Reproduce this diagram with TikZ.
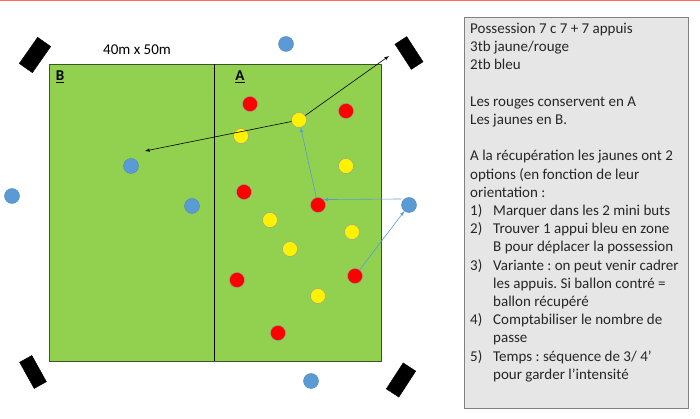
\documentclass[tikz,border=0pt]{standalone}
\usepackage{fontspec}
\setmainfont{Carlito}
\usepackage{tikz}
\frenchspacing

\definecolor{terrain}{HTML}{92D050}
\definecolor{bord}{HTML}{385723}
\definecolor{bleu}{HTML}{5B9BD5}
\definecolor{bleufonce}{HTML}{4A86BE}
\definecolor{encadre}{HTML}{E7E6E6}

\begin{document}
\begin{tikzpicture}[x=1pt,y=1pt,
		joueur/.style={circle, inner sep=0pt, minimum size=15pt, line width=0.4pt},
		rouge/.style={joueur, fill=red, draw=gray!80},
		jaune/.style={joueur, fill=yellow, draw=gray!80},
		appui/.style={joueur, fill=bleu, draw=bleufonce},
		minibut/.style={fill=black, draw=black, inner sep=0pt, minimum width=30pt, minimum height=14pt},
		passe/.style={-latex, line width=0.6pt},
		deplacement/.style={-latex, line width=0.6pt, bleu}]
			%\draw [help lines, step=10] (0,0) grid (700,419);
			\useasboundingbox (0,0) rectangle (700,419);
			\draw[red!60, line width=1.2pt] (0,418.6) -- (700,418.6);

			% terrain
			\draw[fill=terrain, draw=bord, line width=0.6pt] (49,58) rectangle (381,355);
			\draw[line width=0.6pt] (214,58) -- (214,355);
			\node (dim) at (137,369) {\fontsize{15}{18}\selectfont 40m x 50m};
			\node (zB) at (60,342) {\fontsize{15}{18}\selectfont\underline{\textbf{B}}};
			\node (zA) at (240,342) {\fontsize{15}{18}\selectfont\underline{\textbf{A}}};

			% mini buts
			\node[minibut, minimum width=32pt, minimum height=16pt, rotate=55] (g1) at (35,364) {};
			\node[minibut, rotate=-57] (g2) at (409,366) {};
			\node[minibut, rotate=-61] (g3) at (33,47) {};
			\node[minibut, minimum width=31pt, minimum height=15pt, rotate=57] (g4) at (401,39) {};

			% appuis
			\node[appui] (b1) at (286,375) {};
			\node[appui] (b2) at (131,253) {};
			\node[appui] (b3) at (12,223) {};
			\node[appui] (b4) at (192,213) {};
			\node[appui] (b5) at (409,214) {};
			\node[appui] (b6) at (311,38) {};

			% rouges
			\node[rouge] (r1) at (250,315) {};
			\node[rouge] (r2) at (346,308) {};
			\node[rouge] (r3) at (244,227) {};
			\node[rouge] (r4) at (318,214) {};
			\node[rouge] (r5) at (355,143) {};
			\node[rouge] (r6) at (237,139) {};
			\node[rouge] (r7) at (278,86) {};

			% jaunes
			\node[jaune] (j1) at (299,299) {};
			\node[jaune] (j2) at (241,283) {};
			\node[jaune] (j3) at (346,253) {};
			\node[jaune] (j4) at (270,199) {};
			\node[jaune] (j5) at (352,187) {};
			\node[jaune] (j6) at (290,170) {};
			\node[jaune] (j7) at (318,123) {};

			% passes et deplacements
			\coordinate (p1) at (389,363);
			\coordinate (p2) at (145,268);
			\draw[passe] (j1) -- (p1);
			\draw[passe] (j1) -- (p2);
			\draw[deplacement] ([yshift=6pt]b5.west) -- (r4.north east);
			\draw[deplacement] (r4) -- (j1);
			\draw[deplacement] (r5) -- (b5);

			% consignes
			\draw[fill=encadre, draw=gray, line width=0.8pt] (464,11) rectangle (688,402);
			\node[anchor=north west, align=left, inner sep=0pt, text=black!85,
				font=\fontsize{15}{18.2}\selectfont] (txt) at (470,396) {%
				Possession 7 c 7 + 7 appuis\\
				3tb jaune/rouge\\
				2tb bleu\\[18.2pt]
				Les rouges conservent en A\\
				Les jaunes en B.\\[18.2pt]
				A la récupération les jaunes ont 2\\
				options (en fonction de leur\\
				orientation :\\
				\makebox[23pt][l]{1)}Marquer dans les 2 mini buts\\
				\makebox[23pt][l]{2)}Trouver 1 appui bleu en zone\\
				\hspace*{23pt}B pour déplacer la possession\\
				\makebox[23pt][l]{3)}Variante : on peut venir cadrer\\
				\hspace*{23pt}les appuis. Si ballon contré =\\
				\hspace*{23pt}ballon récupéré\\
				\makebox[23pt][l]{4)}Comptabiliser le nombre de\\
				\hspace*{23pt}passe\\
				\makebox[23pt][l]{5)}Temps : séquence de 3/ 4’\\
				\hspace*{23pt}pour garder l’intensité};
		\end{tikzpicture}
\end{document}
